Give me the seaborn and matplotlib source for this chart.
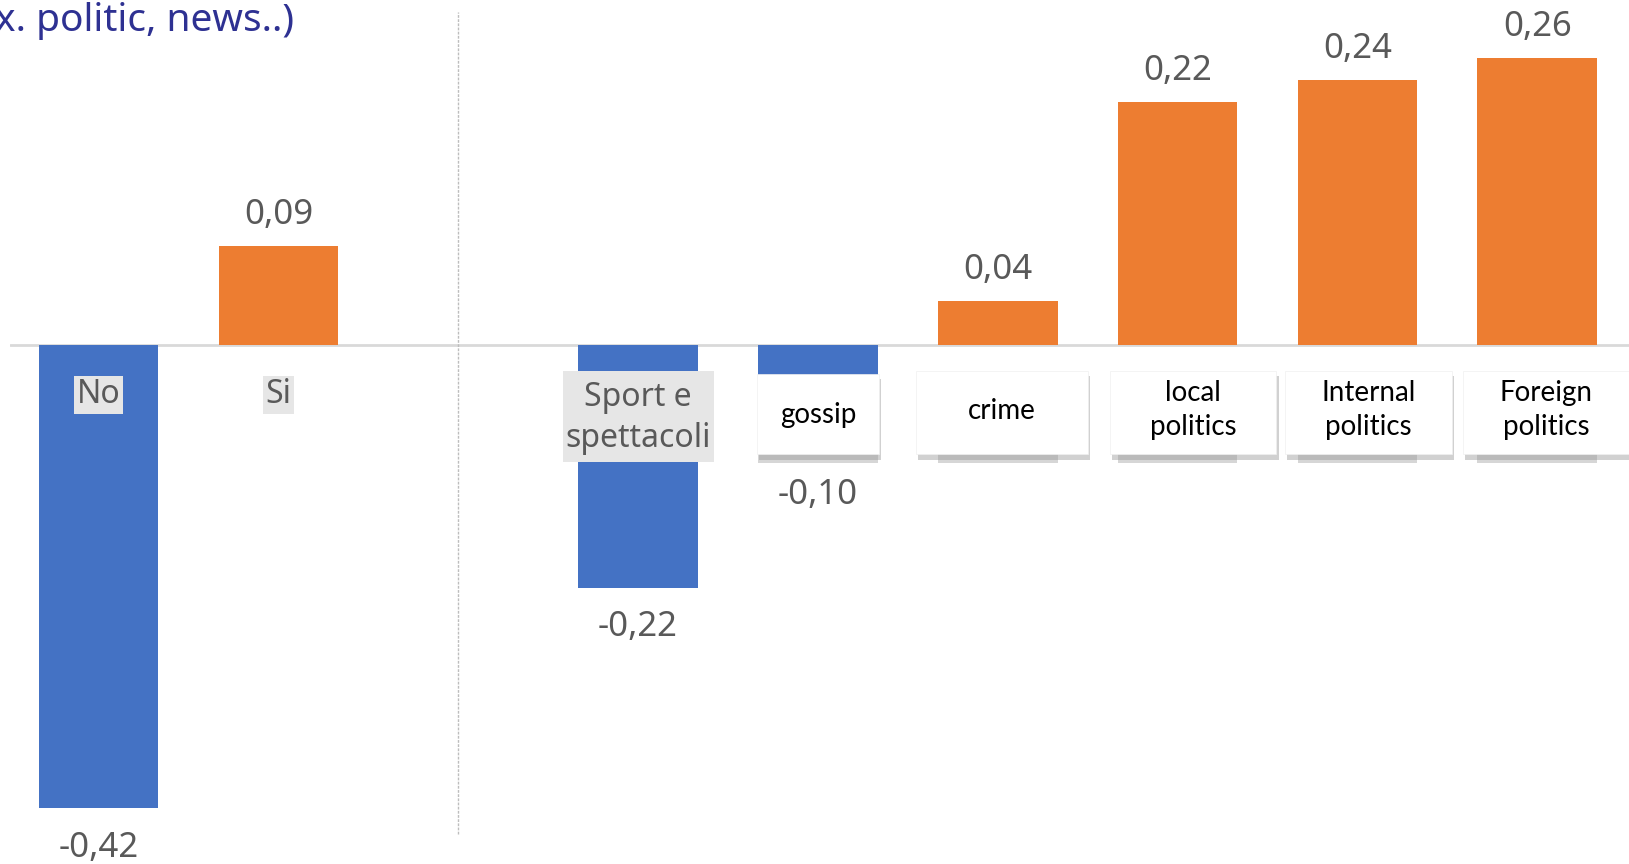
import pandas as pd
import seaborn as sns
import matplotlib.pyplot as plt
from matplotlib.patches import Rectangle

# data
categories = ["No", "Si", "Sport e\nspettacoli", "gossip", "crime",
              "local\npolitics", "Internal\npolitics", "Foreign\npolitics"]
values = [-0.42, 0.09, -0.22, -0.10, 0.04, 0.22, 0.24, 0.26]
gap_label = " "
order = categories[:2] + [gap_label] + categories[2:]
title_text = "x. politic, news..)"

blue = "#4472C4"
orange = "#ED7D31"
grey_txt = "#595959"

df = pd.DataFrame({"cat": categories, "val": values})
df["sign"] = ["neg" if v < 0 else "pos" for v in values]

sns.set_style("white")
plt.rcParams["font.family"] = ["Noto Sans", "DejaVu Sans"]

fig = plt.figure(figsize=(16.29, 8.64), dpi=100)
ax = fig.add_axes([10.4 / 1629, 0, 1 - 10.4 / 1629, 1])

sns.barplot(data=df, x="cat", y="val", hue="sign", order=order,
            hue_order=["neg", "pos"],
            palette={"neg": blue, "pos": orange}, dodge=False, width=0.665,
            saturation=1, linewidth=0, legend=False, ax=ax, zorder=2)

ax.set_xlim(-0.49, 8.51)
ax.set_ylim(-0.4705, 0.3128)
ax.axis("off")

# zero line and separator
ax.axhline(0, color="#d9d9d9", lw=2, zorder=1)
ax.vlines(order.index(gap_label), -0.443, 0.3015, color="#bdbdbd", lw=1,
          linestyle=(0, (2, 1)), zorder=1)

# value labels (comma decimals)
for cont, pad in zip(ax.containers, [16, 10]):
    ax.bar_label(cont, fmt=lambda v: f"{v:.2f}".replace(".", ","), padding=pad,
                 fontsize=25, color=grey_txt)

# grey labels with grey background
for name in ["No", "Si"]:
    ax.text(order.index(name), -0.045, name, ha="center", va="center",
            fontsize=23, color=grey_txt, zorder=5,
            bbox=dict(boxstyle="square,pad=0.08", fc="#e6e6e6", ec="none"))

pos = order.index("Sport e\nspettacoli")
ax.add_patch(Rectangle((pos - 0.42, -0.106), 0.84, 0.0825, fc="#e6e6e6",
                       ec="none", zorder=4))
ax.text(pos, -0.066, "Sport e\nspettacoli", ha="center", va="center",
        fontsize=23, color=grey_txt, linespacing=1.3, zorder=5)

# white boxed labels: (offset, width, top, text y)
box_style = {
    "gossip": (0.0, 0.68, -0.026, -0.063),
    "crime": (0.023, 0.96, -0.0235, -0.060),
    "local\npolitics": (0.087, 0.925, -0.0235, -0.059),
    "Internal\npolitics": (0.06, 0.93, -0.0235, -0.059),
    "Foreign\npolitics": (0.05, 0.93, -0.0235, -0.059),
}
bottom = -0.099
for name, (dx, w, top, ty) in box_style.items():
    p = order.index(name)
    ax.add_patch(Rectangle((p - 0.333, -0.107), 0.666, 0.08, fc="#d6d6d6",
                           ec="none", zorder=3))
    ax.add_patch(Rectangle((p + dx - w / 2 + 0.012, bottom - 0.005), w,
                           top - bottom, fc="#9a9a9a", ec="none", alpha=0.45,
                           zorder=4))
    ax.add_patch(Rectangle((p + dx - w / 2, bottom), w, top - bottom,
                           fc="white", ec="#f0f0f0", lw=0.5, zorder=4.5))
    ax.text(p + dx, ty, name, ha="center", va="center", fontsize=20,
            color="black", linespacing=1.4, zorder=5,
            family=["Lato", "DejaVu Sans"])

fig.text(-0.003, 0.976, title_text, ha="left", va="center", fontsize=28,
         color="#2E3192")

fig.savefig("out.png", dpi=100)
